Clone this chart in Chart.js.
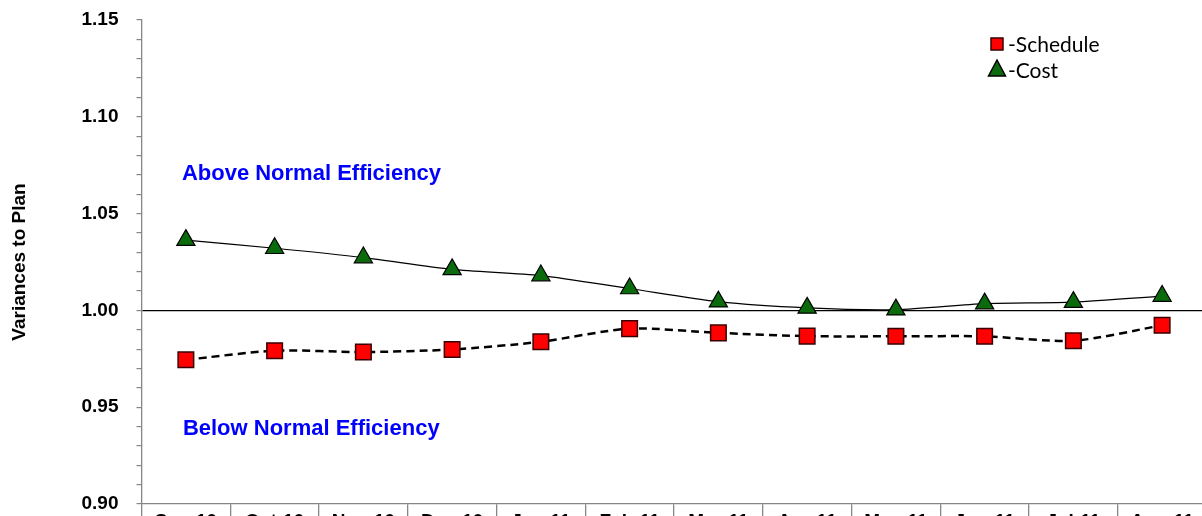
<!DOCTYPE html>
<html>
<head>
<meta charset="utf-8">
<script src="https://cdn.jsdelivr.net/npm/chart.js@4.4.0/dist/chart.umd.min.js"></script>
<style>
  html, body { margin: 0; padding: 0; background: #fff; overflow: hidden; }
  #wrap { width: 1202px; height: 516px; overflow: hidden; position: relative; }
  #chart { position: absolute; left: 0; top: 0; }
</style>
</head>
<body>
<div id="wrap"><canvas id="chart" width="1219" height="540" style="width:1219px;height:540px"></canvas></div>
<script>
  // months
  const months = ['Sep-10','Oct-10','Nov-10','Dec-10','Jan-11','Feb-11','Mar-11','Apr-11','May-11','Jun-11','Jul-11','Aug-11'];
  // variances
  const schedule = [0.9745, 0.9792, 0.9785, 0.9798, 0.9838, 0.9906, 0.9884, 0.9867, 0.9866, 0.9866, 0.9843, 0.9923];
  const cost     = [1.0363, 1.0321, 1.0273, 1.0212, 1.0180, 1.0113, 1.0045, 1.0013, 1.0004, 1.0035, 1.0043, 1.0074];
  const yMin = 0.90, yMax = 1.15;

  const axisGray = '#868686';

  // texte + legende
  const notes = {
    id: 'notes',
    afterDraw(chart) {
      const { ctx, scales: { x, y } } = chart;
      ctx.save();
      ctx.font = 'bold 22px "Liberation Sans", Arial, sans-serif';
      ctx.fillStyle = '#0000ff';
      ctx.textBaseline = 'alphabetic';
      ctx.fillText('Above Normal Efficiency', x.getPixelForValue(0) - 4, y.getPixelForValue(1.0674));
      ctx.fillText('Below Normal Efficiency', x.getPixelForValue(0) - 3, y.getPixelForValue(0.9356));

      // legend
      ctx.lineWidth = 1.5;
      ctx.strokeStyle = '#3a0000';
      ctx.fillStyle = '#ff0000';
      ctx.fillRect(991, 38, 12, 12);
      ctx.strokeRect(991, 38, 12, 12);
      ctx.beginPath();
      ctx.moveTo(997, 60); ctx.lineTo(1005.5, 76); ctx.lineTo(988.5, 76); ctx.closePath();
      ctx.fillStyle = '#0b6a0b';
      ctx.strokeStyle = '#000';
      ctx.fill(); ctx.stroke();
      ctx.font = '21px Lato, "Open Sans", sans-serif';
      ctx.fillStyle = '#000';
      ctx.fillText('-Schedule', 1008, 52);
      ctx.fillText('-Cost', 1008, 78);
      ctx.restore();
    }
  };

  new Chart(document.getElementById('chart'), {
    type: 'line',
    data: {
      labels: months,
      datasets: [
        { label: '-Schedule', data: schedule, borderColor: '#000', borderWidth: 2.5, borderDash: [8, 5],
          tension: 0.25, pointStyle: 'rect', pointRadius: 11, pointBackgroundColor: '#ff0000',
          pointBorderColor: '#3a0000', pointBorderWidth: 1.5 },
        { label: '-Cost', data: cost, borderColor: '#000', borderWidth: 1.2,
          tension: 0.25, pointStyle: 'triangle', pointRadius: 10.5, pointBackgroundColor: '#0b6a0b',
          pointBorderColor: '#000', pointBorderWidth: 1.2 }
      ]
    },
    options: {
      responsive: false,
      animation: false,
      layout: { padding: { top: 20, right: 8, bottom: 0, left: 0 } },
      plugins: { legend: { display: false }, tooltip: { enabled: false } },
      scales: {
        x: {
          offset: true,
          afterFit: (s) => { s.height = 36; s.paddingLeft = 0; s.paddingRight = 0; },
          border: { color: axisGray, width: 1.3 },
          grid: { offset: true, drawOnChartArea: false, color: axisGray, tickLength: 30, lineWidth: 1.3 },
          ticks: { padding: -24, color: '#000', maxRotation: 0, font: { family: '"Liberation Sans", Arial', size: 19, weight: 'bold' } }
        },
        y: {
          min: yMin, max: yMax,
          afterFit: (s) => { s.width = 141.5; s.paddingTop = 0; s.paddingBottom = 0; },
          border: { color: axisGray, width: 1.3 },
          grid: {
            color: (c) => Math.abs(c.tick.value - 1) < 1e-6 ? '#000' : 'rgba(0,0,0,0)',
            tickColor: axisGray, tickLength: 5, lineWidth: 1.2
          },
          ticks: {
            stepSize: 0.01, padding: 18, color: '#000', autoSkip: false,
            font: { family: '"Liberation Sans", Arial', size: 19, weight: 'bold' },
            callback: (v) => Math.round(v * 100) % 5 === 0 ? v.toFixed(2) : ''
          },
          title: { display: true, text: 'Variances to Plan', color: '#000', padding: { top: 8, bottom: 0 },
            font: { family: '"Liberation Sans", Arial', size: 19, weight: 'bold' } }
        }
      }
    },
    plugins: [notes]
  });
</script>
</body>
</html>
